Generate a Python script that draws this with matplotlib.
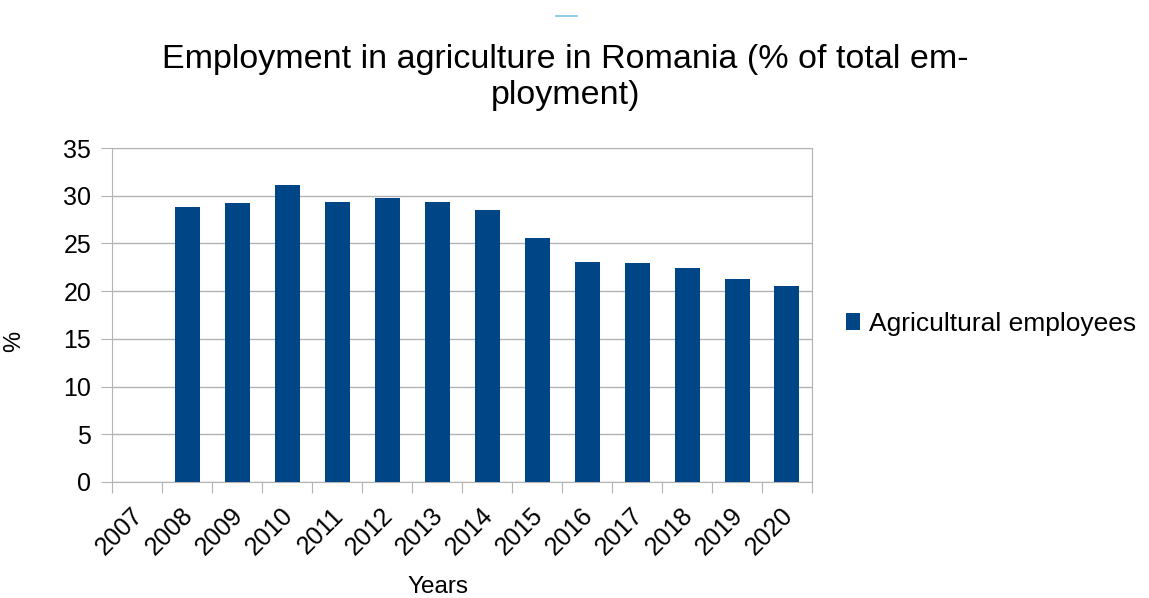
import numpy as np
import matplotlib.pyplot as plt
from matplotlib.lines import Line2D
from matplotlib.transforms import ScaledTranslation

plt.rcParams['font.family'] = ['Liberation Sans', 'DejaVu Sans']

#%% data
years = ['2007', '2008', '2009', '2010', '2011', '2012', '2013',
         '2014', '2015', '2016', '2017', '2018', '2019', '2020']
share = [np.nan, 28.8, 29.2, 31.1, 29.3, 29.8, 29.3,
         28.5, 25.6, 23.1, 22.9, 22.4, 21.3, 20.5]
series_name = 'Agricultural employees'

#%% plot
fig = plt.figure(figsize=(11.49, 5.98), dpi=100)
ax = fig.add_axes([0.0975, 0.194, 0.6092, 0.5585])

x = np.arange(len(years))
ax.bar(x, share, width=0.5, color='#004586', label=series_name, zorder=3)

ax.set_xlim(-0.5, len(years) - 0.5)
ax.set_ylim(0, 35)
ax.set_yticks(np.arange(0, 36, 5))
ax.grid(axis='y', color='#b3b3b3', linewidth=1, zorder=0)

# tick marks on category boundaries, labels on category centres
ax.set_xticks(np.arange(-0.5, len(years), 1.0))
ax.set_xticklabels([])
ax.set_xticks(x, minor=True)
ax.set_xticklabels(years, minor=True, rotation=45, ha='right',
                   rotation_mode='anchor', fontsize=18)
ax.tick_params(axis='x', which='minor', length=0, pad=15.5)
ax.tick_params(axis='x', which='major', length=8, color='#b3b3b3')
ax.tick_params(axis='y', length=8, color='#b3b3b3', labelsize=18, pad=7)
shift = ScaledTranslation(-0.06, 0, fig.dpi_scale_trans)
for lab in ax.get_xticklabels(minor=True):
    lab.set_transform(lab.get_transform() + shift)

for s in ax.spines.values():
    s.set_color('#b3b3b3')

ax.set_ylabel('%', fontsize=17)
ax.yaxis.set_label_coords(-0.124, 0.42)
ax.set_xlabel('Years', fontsize=17.5)
ax.xaxis.set_label_coords(0.466, -0.28)

fig.suptitle('Employment in agriculture in Romania (% of total em-\nployment)',
             x=0.492, y=0.926, fontsize=24.5, linespacing=1.2)

ax.legend(loc='center left', bbox_to_anchor=(1.033, 0.473), frameon=False,
          fontsize=19, handlelength=0.55, handleheight=0.6, handletextpad=0.35,
          borderaxespad=0)

# thin blue mark along the top edge
fig.add_artist(Line2D([0.484, 0.502], [0.973, 0.973], color='#7cc5ea', linewidth=1.2))

plt.savefig('out.png', dpi=100, facecolor='white')
